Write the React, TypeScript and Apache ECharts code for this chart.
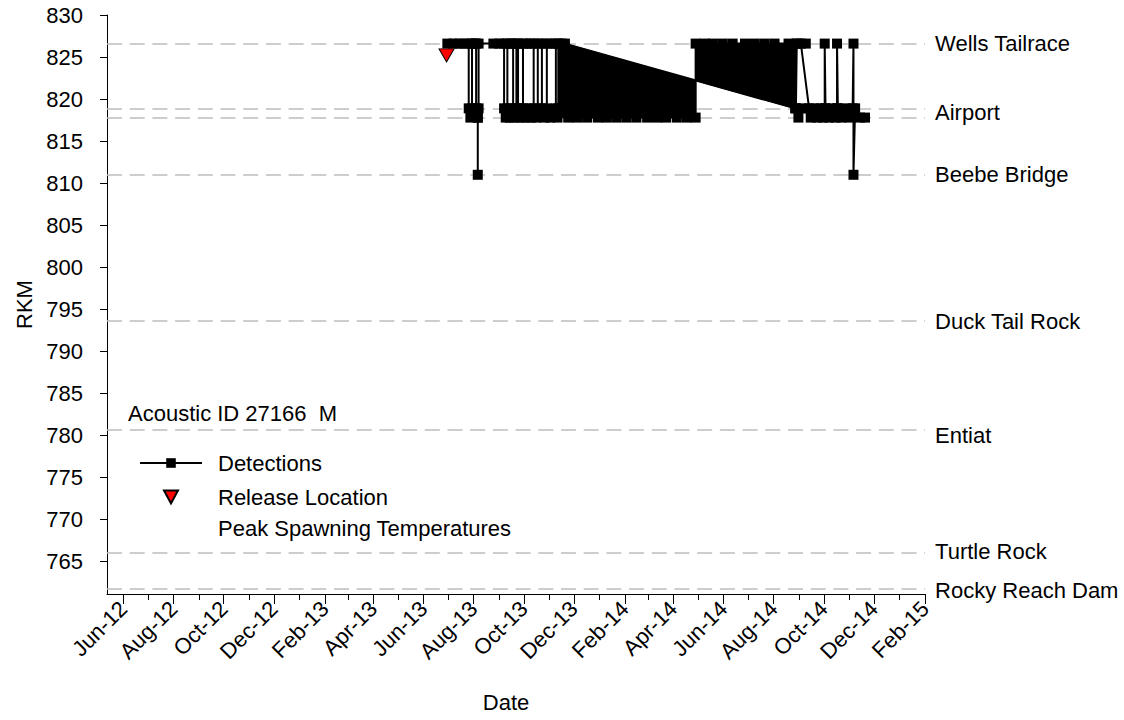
import React, { useEffect, useRef } from 'react';
import * as echarts from 'echarts';

const FONT = "'Liberation Sans', Arial, sans-serif";

// Receiver sites (RKM) shown as dashed reference lines
const siteLineRkm = [826.6, 818.9, 817.8, 811.0, 793.7, 780.7, 766.0, 761.8];
// Site names printed at the right of the plot
const siteLabelNames = ['Wells Tailrace', 'Airport', 'Beebe Bridge', 'Duck Tail Rock', 'Entiat', 'Turtle Rock', 'Rocky Reach Dam'];
const siteLabelRkm = [826.6, 818.35, 811.0, 793.6, 780.0, 766.2, 761.6];

const WT = 826.6; // Wells Tailrace
const AP1 = 818.9; // Airport (upper receiver)
const AP2 = 817.8; // Airport (lower receiver)
const BB = 811.0; // Beebe Bridge

// Detections in plotted order
const detectionsMain: [string, number][] = [
  ['2013-06-30', WT], ['2013-07-07', WT], ['2013-07-14', WT], ['2013-07-20', WT], ['2013-07-26', WT],
  ['2013-07-26', AP1], ['2013-07-28', AP2], ['2013-07-30', AP1], ['2013-07-30', WT],
  ['2013-08-02', WT], ['2013-08-04', WT], ['2013-08-04', AP1], ['2013-08-06', AP2], ['2013-08-06', BB],
  ['2013-08-06', AP2], ['2013-08-07', AP1], ['2013-08-07', WT],
  ['2013-08-25', WT], ['2013-09-01', WT], ['2013-09-07', WT],
  ['2013-09-07', AP1], ['2013-09-09', AP2], ['2013-09-14', AP2], ['2013-09-11', AP1], ['2013-09-11', WT],
  ['2013-09-15', WT], ['2013-09-18', WT], ['2013-09-18', AP1], ['2013-09-20', AP2], ['2013-09-22', AP1], ['2013-09-22', WT],
  ['2013-09-24', WT], ['2013-09-24', AP1], ['2013-09-27', AP2], ['2013-10-03', AP2], ['2013-10-06', AP1], ['2013-09-30', AP1], ['2013-09-30', WT],
  ['2013-10-04', WT], ['2013-10-09', WT], ['2013-10-13', WT], ['2013-10-13', AP1], ['2013-10-10', AP2], ['2013-10-16', AP2], ['2013-10-18', AP1], ['2013-10-18', WT],
  ['2013-10-23', WT], ['2013-10-23', AP1], ['2013-10-26', AP2], ['2013-11-02', AP2], ['2013-10-29', AP1], ['2013-10-29', WT],
  ['2013-11-04', WT], ['2013-11-09', WT], ['2013-11-09', AP1], ['2013-11-11', AP2], ['2013-11-12', AP1], ['2013-11-12', WT],
  ['2013-11-16', WT], ['2013-11-20', WT],
  ['2014-08-27', AP1], ['2014-08-31', AP2], ['2014-09-05', AP1], ['2014-08-28', AP1], ['2014-08-29', WT],
  ['2014-09-09', WT], ['2014-09-03', WT], ['2014-09-13', AP1], ['2014-09-15', AP2],
  ['2014-09-19', AP1], ['2014-09-23', AP2], ['2014-09-27', AP1], ['2014-09-30', AP2], ['2014-10-02', AP1], ['2014-10-02', WT], ['2014-10-03', AP1],
  ['2014-10-07', AP2], ['2014-10-12', AP1], ['2014-10-15', AP2], ['2014-10-17', AP1], ['2014-10-17', WT], ['2014-10-18', AP1],
  ['2014-10-22', AP2], ['2014-10-27', AP1], ['2014-11-01', AP2], ['2014-11-05', AP1], ['2014-11-06', WT], ['2014-11-06', BB],
  ['2014-11-08', AP1], ['2014-11-14', AP2], ['2014-11-20', AP2],
];

// Continuous rows of detections (Airport winter 2013-14, Wells summer 2014)
const detectionsRows: [string, number][] = [
  ['2013-11-24', AP2], ['2013-12-05', AP2], ['2013-12-17', AP2], ['2013-12-30', AP2], ['2014-01-10', AP2],
  ['2014-01-22', AP2], ['2014-02-03', AP2], ['2014-02-15', AP2], ['2014-02-28', AP2], ['2014-03-12', AP2],
  ['2014-03-23', AP2], ['2014-04-05', AP2], ['2014-04-17', AP2], ['2014-04-28', AP2],
  ['2014-04-28', WT], ['2014-05-09', WT], ['2014-05-19', WT], ['2014-05-31', WT], ['2014-06-12', WT],
  ['2014-06-27', WT], ['2014-07-09', WT], ['2014-07-21', WT], ['2014-08-02', WT], ['2014-08-19', WT], ['2014-08-29', WT],
];

// Areas saturated by back-and-forth detection lines
const denseRegion1: [string, number][] = [
  ['2013-11-12', WT], ['2013-11-20', WT], ['2014-04-28', 822.2], ['2014-04-28', AP2], ['2013-11-12', AP2],
];
const denseRegion2: [string, number][] = [
  ['2014-04-28', WT], ['2014-08-29', WT], ['2014-08-27', AP1], ['2014-04-28', 822.2],
];

const releaseDates = ['2013-06-29'];
const releaseRkm = [825.2];

const xTickLabels = ['Jun-12', 'Aug-12', 'Oct-12', 'Dec-12', 'Feb-13', 'Apr-13', 'Jun-13', 'Aug-13', 'Oct-13',
  'Dec-13', 'Feb-14', 'Apr-14', 'Jun-14', 'Aug-14', 'Oct-14', 'Dec-14', 'Feb-15'];
const xMinorTicks = ['Jul-12', 'Sep-12', 'Nov-12', 'Jan-13', 'Mar-13', 'May-13', 'Jul-13', 'Sep-13', 'Nov-13',
  'Jan-14', 'Mar-14', 'May-14', 'Jul-14', 'Sep-14', 'Nov-14', 'Jan-15'];
const yTicks = [765, 770, 775, 780, 785, 790, 795, 800, 805, 810, 815, 820, 825, 830];
const xMin = '2012-05-12';
const xMax = '2015-02-01';
const yMin = 761.15;
const yMax = 830;

const MONTHS = ['Jan', 'Feb', 'Mar', 'Apr', 'May', 'Jun', 'Jul', 'Aug', 'Sep', 'Oct', 'Nov', 'Dec'];
const ts = (s: string) => {
  const [y, m, d] = s.split('-').map(Number);
  return new Date(y, m - 1, d).getTime();
};
const monthTs = (lbl: string) => {
  const [mon, yy] = lbl.split('-');
  return new Date(2000 + Number(yy), MONTHS.indexOf(mon), 1).getTime();
};
const fmtMonth = (v: number) => {
  const d = new Date(v);
  return MONTHS[d.getMonth()] + '-' + String(d.getFullYear()).slice(2);
};

const denseRegions = [denseRegion1, denseRegion2];

export default function App() {
  const ref = useRef<HTMLDivElement>(null);
  useEffect(() => {
    if (!ref.current) return;
    const chart = echarts.init(ref.current, null, { renderer: 'svg' });
    const txt = { fontFamily: FONT, color: '#000', fontSize: 22 };
    const majorVals = xTickLabels.map(monthTs);
    const minorVals = xMinorTicks.map(monthTs);
    const detStyle = {
      type: 'line',
      symbol: 'rect',
      symbolSize: 10,
      showAllSymbol: true,
      lineStyle: { color: '#000', width: 2 },
      itemStyle: { color: '#000', borderWidth: 0, opacity: 1 },
      z: 3,
      clip: false,
    };
    const option: any = {
      animation: false,
      backgroundColor: '#fff',
      textStyle: { fontFamily: FONT },
      title: {
        text: 'Acoustic ID 27166  M',
        left: 128,
        top: 401,
        padding: 0,
        textStyle: { ...txt, fontWeight: 'normal', lineHeight: 24 },
      },
      legend: [
        {
          orient: 'vertical',
          left: 139,
          top: 452,
          padding: 0,
          itemWidth: 62,
          itemHeight: 12,
          selectedMode: false,
          textStyle: { ...txt, lineHeight: 22, padding: [0, 0, 0, 11] },
          data: [{ name: 'Detections' }],
        },
        {
          orient: 'vertical',
          left: 163,
          top: 486,
          padding: 0,
          itemWidth: 14,
          itemHeight: 13,
          itemGap: 9,
          selectedMode: false,
          textStyle: { ...txt, lineHeight: 22, padding: [0, 0, 0, 35] },
          data: [
            { name: 'Release Location', icon: 'path://M0,0L14,0L7,13Z' },
            { name: 'Peak Spawning Temperatures', itemStyle: { opacity: 0 }, lineStyle: { opacity: 0 } },
          ],
        },
      ],
      grid: { left: 107, top: 15, right: 199, bottom: 126, containLabel: false },
      xAxis: [
        {
          type: 'value',
          min: ts(xMin),
          max: ts(xMax),
          position: 'bottom',
          axisLine: { onZero: false, lineStyle: { color: '#000', width: 1 } },
          axisTick: { customValues: majorVals, length: 10, lineStyle: { color: '#000', width: 1 } },
          axisLabel: {
            customValues: majorVals,
            interval: 0,
            rotate: 45,
            margin: 11,
            formatter: (v: number) => fmtMonth(v),
            ...txt,
          },
          splitLine: { show: false },
          name: 'Date',
          nameLocation: 'middle',
          nameGap: 97,
          nameTextStyle: { ...txt, padding: [0, 20, 0, 0] },
        },
        {
          type: 'value',
          min: ts(xMin),
          max: ts(xMax),
          position: 'bottom',
          axisLine: { show: false, onZero: false },
          axisTick: { customValues: minorVals, length: 6, lineStyle: { color: '#000', width: 1 } },
          axisLabel: { show: false },
          splitLine: { show: false },
        },
      ],
      yAxis: {
        type: 'value',
        min: yMin,
        max: yMax,
        axisLine: { show: true, onZero: false, lineStyle: { color: '#000', width: 1 } },
        axisTick: { show: true, customValues: yTicks, length: 7, lineStyle: { color: '#000', width: 1 } },
        axisLabel: { customValues: yTicks, margin: 24, ...txt },
        splitLine: { show: false },
        name: 'RKM',
        nameLocation: 'middle',
        nameGap: 72,
        nameTextStyle: txt,
      },
      series: [
        {
          name: 'Sites',
          type: 'scatter',
          silent: true,
          z: 1,
          clip: false,
          symbolSize: 0.1,
          itemStyle: { color: 'rgba(0,0,0,0)', opacity: 1 },
          data: siteLabelNames.map((n, i) => ({ name: n, value: [ts(xMax), siteLabelRkm[i]] })),
          label: { show: true, position: 'right', distance: 10, formatter: '{b}', opacity: 1, ...txt },
          markLine: {
            silent: true,
            z: 1,
            symbol: 'none',
            label: { show: false },
            lineStyle: { color: '#bdbdbd', width: 1.5, type: [15, 7.7], opacity: 1 },
            data: siteLineRkm.map((v) => ({ yAxis: v })),
          },
        },
        {
          ...detStyle,
          name: 'Detections',
          data: detectionsMain.map(([d, v]) => [ts(d), v]),
        },
        {
          name: 'Detections',
          type: 'custom',
          z: 2,
          clip: false,
          data: denseRegions.map((p) => [ts(p[0][0]), p[0][1]]),
          renderItem: (params: any, api: any) => {
            const poly = denseRegions[params.dataIndex];
            const pts = poly.map(([d, v]) => api.coord([ts(d), v]));
            return {
              type: 'polygon',
              shape: { points: pts },
              style: { fill: '#000', stroke: '#000', lineWidth: 1 },
            };
          },
        },
        {
          ...detStyle,
          name: 'Detections',
          data: detectionsRows.map(([d, v]) => [ts(d), v]),
        },
        {
          name: 'Release Location',
          type: 'scatter',
          symbol: 'triangle',
          symbolRotate: 180,
          symbolSize: [15, 13],
          itemStyle: { color: '#ff0000', borderColor: '#000', borderWidth: 1, opacity: 1 },
          data: releaseDates.map((d, i) => [ts(d), releaseRkm[i]]),
          z: 5,
        },
        {
          name: 'Peak Spawning Temperatures',
          type: 'line',
          data: [],
          symbol: 'none',
          lineStyle: { opacity: 0 },
          itemStyle: { opacity: 0 },
        },
      ],
    };
    chart.setOption(option);
    return () => chart.dispose();
  }, []);
  return (
    <div
      ref={ref}
      style={{ position: 'fixed', left: 0, top: 0, width: 1124, height: 720, background: '#fff' }}
    />
  );
}
